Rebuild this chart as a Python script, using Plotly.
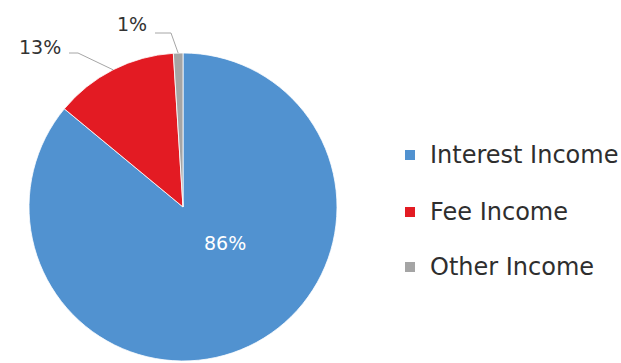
import math
import plotly.graph_objects as go

# Income breakdown
labels = ["Interest Income", "Fee Income", "Other Income"]
shares = [86, 13, 1]
colors = ["#5192D0", "#E31B23", "#A5A5A5"]

W, H = 621, 363
FONT = "DejaVu Sans"

# pie placement in pixels (centre and radius)
CX, CY, R = 183, 207, 154
dom_x = [(CX - R) / W, (CX + R) / W]
dom_y = [1 - (CY + R) / H, 1 - (CY - R) / H]

fig = go.Figure(go.Pie(
    labels=labels,
    values=shares,
    sort=False,
    direction="clockwise",
    rotation=0,
    marker=dict(colors=colors, line=dict(color="white", width=0.8)),
    textinfo="none",
    hoverinfo="label+percent",
    showlegend=False,
    domain=dict(x=dom_x, y=dom_y),
))

def px(x):
    return x / W

def py(y):
    return 1 - y / H

annotations = []
shapes = []

total = sum(shares)
cum = 0
mids = []
for v in shares:
    mids.append((cum + v / 2) / total * 360)
    cum += v

# label centre (pixel) for each slice and the elbow of its leader line
label_pos = [
    dict(text_xy=(225, 243), elbow=None, inside=True),
    dict(text_xy=(40, 47), elbow=[(69, 53), (78, 53)], inside=False),
    dict(text_xy=(132, 24), elbow=[(155, 33), (171, 33)], inside=False),
]

for v, ang, lp in zip(shares, mids, label_pos):
    tx, ty = lp["text_xy"]
    annotations.append(dict(
        x=px(tx), y=py(ty), xref="paper", yref="paper",
        xanchor="center", yanchor="middle",
        text=f"{v}%", showarrow=False,
        font=dict(family=FONT, size=19,
                  color="white" if lp["inside"] else "#333333"),
    ))
    if not lp["inside"]:
        t = math.radians(ang)
        ex = CX + R * math.sin(t)
        ey = CY - R * math.cos(t)
        pts = lp["elbow"] + [(ex, ey)]
        path = "M " + " L ".join(f"{px(a)},{py(b)}" for a, b in pts)
        shapes.append(dict(type="path", xref="paper", yref="paper", path=path,
                           line=dict(color="#A6A6A6", width=1)))

# legend drawn as square markers with text
legend_rows = [155, 212, 267]
for lab, col, ry in zip(labels, colors, legend_rows):
    shapes.append(dict(type="rect", xref="paper", yref="paper",
                       x0=px(405), x1=px(415), y0=py(ry - 5), y1=py(ry + 5),
                       fillcolor=col, line=dict(width=0)))
    annotations.append(dict(
        x=px(428), y=py(ry), xref="paper", yref="paper",
        xanchor="left", yanchor="middle", text=lab, showarrow=False,
        font=dict(family=FONT, size=24, color="#2E2E2E"),
    ))

fig.update_layout(
    width=W, height=H,
    margin=dict(l=0, r=0, t=0, b=0),
    paper_bgcolor="white",
    plot_bgcolor="white",
    annotations=annotations,
    shapes=shapes,
)

fig.write_html("out.html")
